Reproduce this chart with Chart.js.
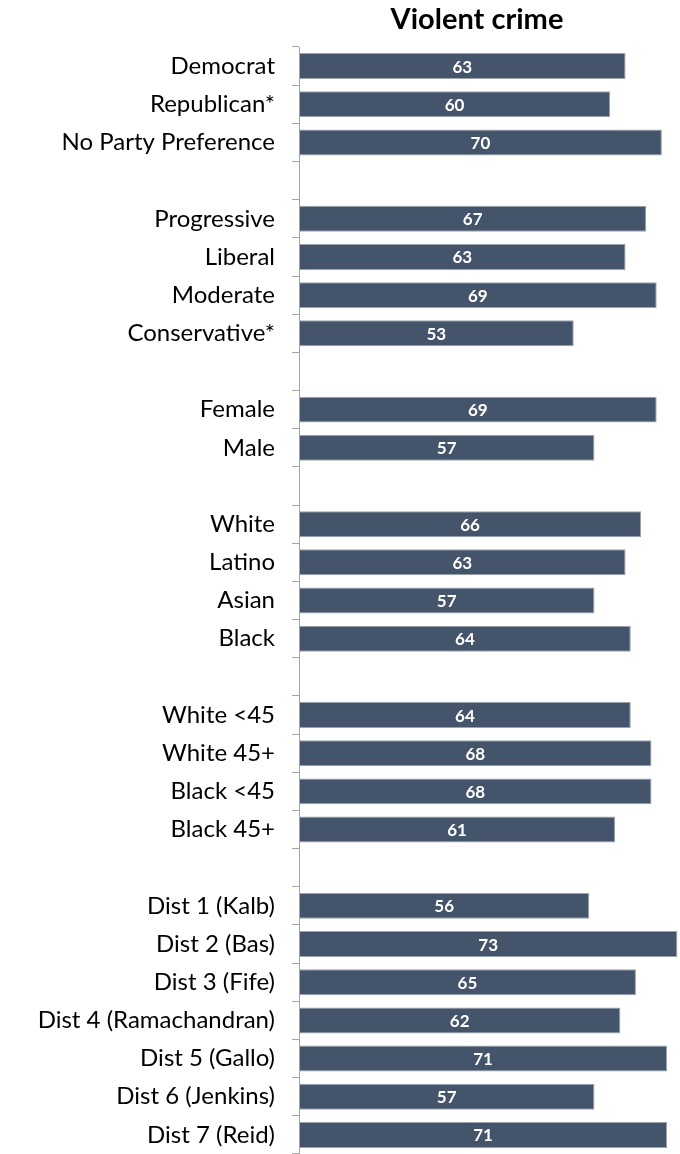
<!DOCTYPE html>
<html>
<head>
<meta charset="utf-8">
<script src="https://cdn.jsdelivr.net/npm/chart.js@4.4.1/dist/chart.umd.min.js"></script>
<style>
  html, body { margin: 0; padding: 0; background: #ffffff; overflow: hidden; }
  canvas { display: block; }
</style>
</head>
<body>
<canvas id="c" width="680" height="1154" style="width:680px;height:1154px"></canvas>
<script>
const chartTitle = 'Violent crime';

const partyLabels = ['Democrat', 'Republican*', 'No Party Preference'];
const partyValues = [63, 60, 70];

const ideologyLabels = ['Progressive', 'Liberal', 'Moderate', 'Conservative*'];
const ideologyValues = [67, 63, 69, 53];

const genderLabels = ['Female', 'Male'];
const genderValues = [69, 57];

const raceLabels = ['White', 'Latino', 'Asian', 'Black'];
const raceValues = [66, 63, 57, 64];

const raceAgeLabels = ['White <45', 'White 45+', 'Black <45', 'Black 45+'];
const raceAgeValues = [64, 68, 68, 61];

const districtLabels = ['Dist 1 (Kalb)', 'Dist 2 (Bas)', 'Dist 3 (Fife)', 'Dist 4 (Ramachandran)', 'Dist 5 (Gallo)', 'Dist 6 (Jenkins)', 'Dist 7 (Reid)'];
const districtValues = [56, 73, 65, 62, 71, 57, 71];

const groups = [
  [partyLabels, partyValues],
  [ideologyLabels, ideologyValues],
  [genderLabels, genderValues],
  [raceLabels, raceValues],
  [raceAgeLabels, raceAgeValues],
  [districtLabels, districtValues]
];

const categories = [];
const values = [];
groups.forEach(([labs, vals], gi) => {
  if (gi > 0) { categories.push(''); values.push(null); }
  labs.forEach((l, i) => { categories.push(l); values.push(vals[i]); });
});

const BAR = '#44546A';
const AXIS = '#a6a6a6';
const FONT = 'Lato, "Open Sans", sans-serif';

const valueLabels = {
  id: 'valueLabels',
  afterDatasetsDraw(chart) {
    const ctx = chart.ctx;
    const meta = chart.getDatasetMeta(0);
    ctx.save();
    ctx.fillStyle = '#ffffff';
    ctx.font = 'bold 17px ' + FONT;
    ctx.textAlign = 'center';
    ctx.textBaseline = 'middle';
    meta.data.forEach((el, i) => {
      const v = chart.data.datasets[0].data[i];
      if (v === null || v === undefined) return;
      ctx.fillText(String(v), (el.x + el.base) / 2, el.y + 1);
    });
    ctx.restore();
  }
};

const customTitle = {
  id: 'customTitle',
  afterDraw(chart) {
    const ctx = chart.ctx;
    ctx.save();
    ctx.fillStyle = '#000000';
    ctx.font = 'bold 29px ' + FONT;
    ctx.textAlign = 'center';
    ctx.textBaseline = 'alphabetic';
    ctx.fillText(chartTitle, 477, 29);
    ctx.restore();
  }
};

new Chart(document.getElementById('c'), {
  type: 'bar',
  data: {
    labels: categories,
    datasets: [{
      data: values,
      backgroundColor: BAR,
      borderColor: '#9aa3ae',
      borderWidth: 1,
      borderSkipped: false,
      barPercentage: 0.68,
      categoryPercentage: 1.0
    }]
  },
  options: {
    indexAxis: 'y',
    responsive: false,
    animation: false,
    layout: { padding: { top: 47, right: 0, bottom: -3, left: 0 } },
    plugins: {
      legend: { display: false },
      title: { display: false },
      tooltip: { enabled: false }
    },
    scales: {
      x: {
        display: false,
        min: 0,
        max: 73.5
      },
      y: {
        offset: true,
        afterFit(scale) {
          scale.width = 299;
          scale.paddingTop = 0;
          scale.paddingBottom = 0;
        },
        border: { display: true, color: AXIS, width: 1 },
        grid: {
          display: true,
          offset: true,
          drawOnChartArea: false,
          drawTicks: true,
          tickLength: 7,
          color: AXIS
        },
        ticks: {
          padding: 17,
          color: '#000000',
          font: { family: FONT, size: 24 },
          autoSkip: false
        }
      }
    }
  },
  plugins: [valueLabels, customTitle]
});
</script>
</body>
</html>
